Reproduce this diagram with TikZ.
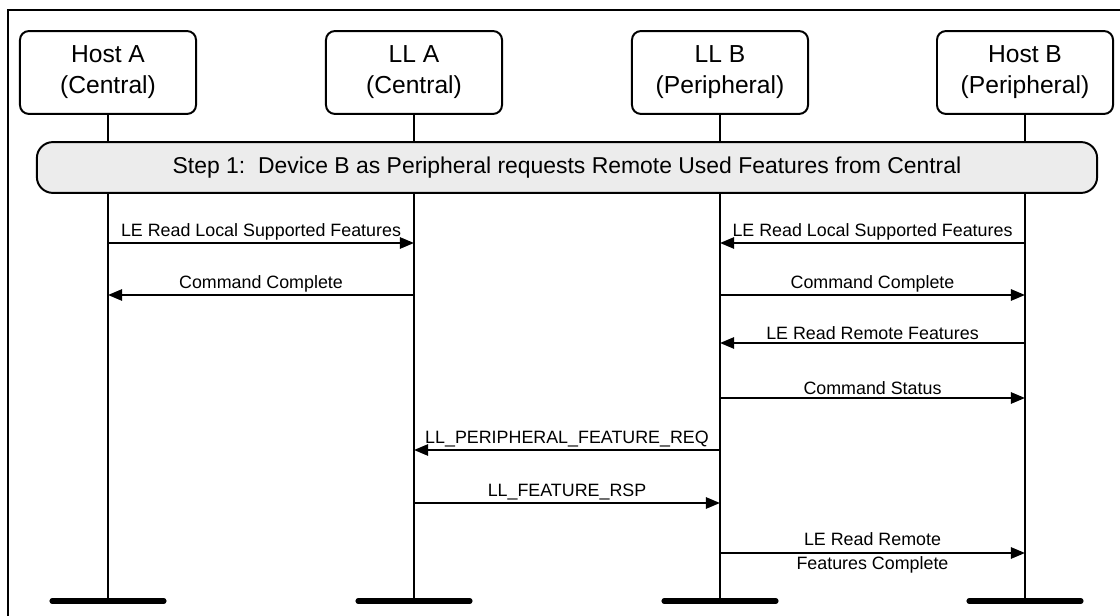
\documentclass[tikz,border=0pt]{standalone}
\usepackage{fontspec}
\setmainfont{Liberation Sans}
\usetikzlibrary{positioning, arrows.meta}

\begin{document}
\begin{tikzpicture}[
    x=0.025cm, y=-0.025cm,
    entity/.style={draw, line width=1.4pt, rounded corners=0.22cm, minimum width=4.4cm,
                   minimum height=2.07cm, align=center, font=\fontsize{17.5}{22}\selectfont},
    stepbar/.style={draw, line width=1.4pt, fill=gray!15, rounded corners=0.4cm,
                    minimum width=26.5cm, minimum height=1.27cm, font=\fontsize{16.3}{19}\selectfont},
    lifeline/.style={line width=1.4pt},
    endbar/.style={line width=3.6pt, line cap=round},
    msg/.style={-{Triangle[length=10pt, width=8pt]}, line width=1.4pt},
    lbl/.style={font=\fontsize{12.7}{17.5}\selectfont, inner sep=1.5pt},
]
\useasboundingbox (0,0) rectangle (1120,616);

% Frame (top and left edges)
\draw[line width=1.4pt] (8,616) -- (8,10) -- (1120,10);

% Participants
\node[entity] (hostA) at (108,72.5) {Host A\\(Central)};
\node[entity] (llA)   at (414,72.5) {LL A\\(Central)};
\node[entity] (llB)   at (720,72.5) {LL B\\(Peripheral)};
\node[entity] (hostB) at (1025,72.5) {Host B\\(Peripheral)};

% Lifelines and end bars
\foreach \p/\x in {hostA/108, llA/414, llB/720, hostB/1025} {
    \coordinate (\p-end) at (\x,601);
    \draw[lifeline] (\p.south) -- (\p-end);
    \draw[endbar] ([xshift=-1.4cm]\p-end) -- ([xshift=1.4cm]\p-end);
}

% Step banner
\node[stepbar] (step1) at (567,167.5)
    {Step 1:\ \ Device B as Peripheral requests Remote Used Features from Central};

% Message anchors on the lifelines
\foreach \n/\y in {1/243, 2/295, 3/343, 4/398, 5/450, 6/503, 7/553} {
    \foreach \p/\x in {hostA/108, llA/414, llB/720, hostB/1025}
        \coordinate (\p\n) at (\x,\y);
}

% Messages
\draw[msg] (hostA1) -- node[lbl, above] {LE Read Local Supported Features} (llA1);
\draw[msg] (hostB1) -- node[lbl, above] {LE Read Local Supported Features} (llB1);
\draw[msg] (llA2) -- node[lbl, above] {Command Complete} (hostA2);
\draw[msg] (llB2) -- node[lbl, above] {Command Complete} (hostB2);
\draw[msg] (hostB3) -- node[lbl, above] {LE Read Remote Features} (llB3);
\draw[msg] (llB4) -- node[lbl, above] {Command Status} (hostB4);
\draw[msg] (llB5) -- node[lbl, above] {LL\_PERIPHERAL\_FEATURE\_REQ} (llA5);
\draw[msg] (llA6) -- node[lbl, above] {LL\_FEATURE\_RSP} (llB6);
\draw[msg] (llB7) -- node[lbl, align=center] {LE Read Remote\\Features Complete} (hostB7);
\end{tikzpicture}
\end{document}
